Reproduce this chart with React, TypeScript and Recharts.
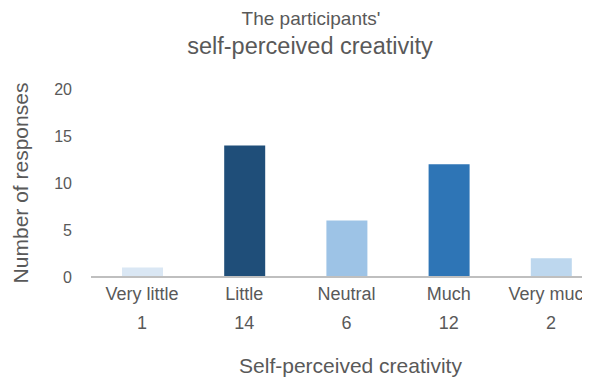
import React from 'react';
import { BarChart, Bar, XAxis, YAxis, Cell, Label } from 'recharts';

const categories = ['Very little', 'Little', 'Neutral', 'Much', 'Very much'];
const responses = [1, 14, 6, 12, 2];
const colors = ['#DAE7F4', '#1F4E79', '#9DC3E6', '#2E75B6', '#BDD7EE'];
const yTicks = [0, 5, 10, 15, 20];

const data = categories.map((name, i) => ({ name, value: responses[i], label: String(responses[i]) }));

const FONT = '"Liberation Sans", Arial, sans-serif';
const GRAY = '#595959';

const XTick = (props: any) => {
  const { x, y, payload, index } = props;
  return (
    <g>
      <text x={x} y={y + 15} textAnchor="middle" fontFamily={FONT} fontSize={18} fill={GRAY}>
        {payload.value}
      </text>
      <text x={x} y={y + 44} textAnchor="middle" fontFamily={FONT} fontSize={18} fill={GRAY}>
        {data[index] ? data[index].label : ''}
      </text>
    </g>
  );
};

export default function App() {
  return (
    <div style={{ position: 'relative', width: 582, height: 370, overflow: 'hidden' }}>
      <div style={{ position: 'absolute', left: 0, top: 0 }}>
        <BarChart width={620} height={370} data={data} margin={{ top: 81, right: 26, bottom: 0, left: 0 }} barCategoryGap="20%">
          <YAxis
            domain={[0, 20]}
            ticks={yTicks}
            width={83}
            axisLine={false}
            tickLine={false}
            tick={{ fontFamily: FONT, fontSize: 16, fill: GRAY }}
            tickMargin={13}
          />
          <XAxis
            dataKey="name"
            height={101}
            tickLine={false}
            axisLine={{ stroke: '#BFBFBF', strokeWidth: 2 }}
            tick={<XTick />}
            interval={0}
          >
            <Label value="Self-perceived creativity" position="insideBottom" offset={5} style={{ fontFamily: FONT, fontSize: 21, fill: GRAY }} dx={4} />
          </XAxis>
          <Bar dataKey="value" isAnimationActive={false} barSize={41}>
            {data.map((d, i) => (
              <Cell key={d.name} fill={colors[i]} />
            ))}
          </Bar>
        </BarChart>
      </div>
      <svg style={{ position: 'absolute', left: 0, top: 0, pointerEvents: 'none' }} width={582} height={370}>
        <text x={303} y={17} textAnchor="middle" fontFamily={FONT} fontSize={19} fill={GRAY}>The participants'</text>
        <text x={302} y={46} textAnchor="middle" fontFamily={FONT} fontSize={23.5} fill={GRAY}>self-perceived creativity</text>
        <text x={12} y={175} transform="rotate(-90 12 175)" textAnchor="middle" dominantBaseline="central" fontFamily={FONT} fontSize={21} fill={GRAY}>Number of responses</text>
      </svg>
    </div>
  );
}
